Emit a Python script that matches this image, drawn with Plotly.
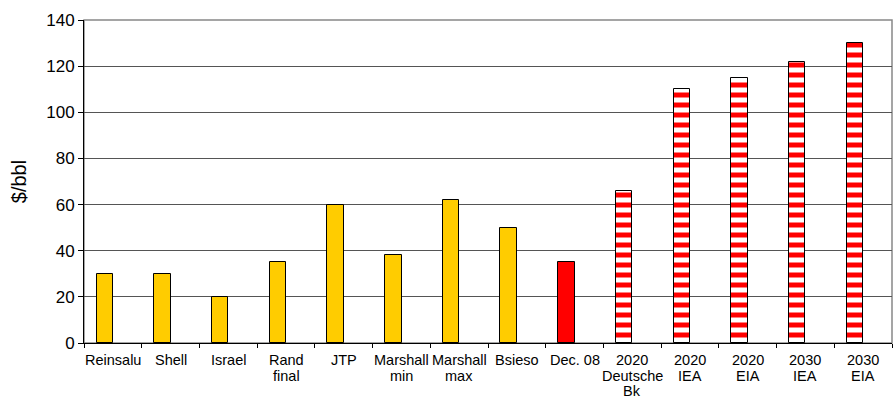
import plotly.graph_objects as go

categories = ["Reinsalu", "Shell", "Israel", "Rand final", "JTP", "Marshall min",
              "Marshall max", "Bsieso", "Dec. 08", "2020 Deutsche Bk",
              "2020 IEA", "2020 EIA", "2030 IEA", "2030 EIA"]
label_lines = [["Reinsalu"], ["Shell"], ["Israel"], ["Rand", "final"], ["JTP"],
               ["Marshall", "min"], ["Marshall", "max"], ["Bsieso"], ["Dec. 08"],
               ["2020", "Deutsche", "Bk"], ["2020", "IEA"], ["2020", "EIA"],
               ["2030", "IEA"], ["2030", "EIA"]]
values = [30, 30, 20, 35, 60, 38, 62, 50, 35, 66, 110, 115, 122, 130]
kinds = ["est"] * 8 + ["actual"] + ["forecast"] * 5

yellow_x = [c for c, k in zip(categories, kinds) if k == "est"]
yellow_y = [v for v, k in zip(values, kinds) if k == "est"]
red_x = [c for c, k in zip(categories, kinds) if k == "actual"]
red_y = [v for v, k in zip(values, kinds) if k == "actual"]
str_x = [c for c, k in zip(categories, kinds) if k == "forecast"]
str_y = [v for v, k in zip(values, kinds) if k == "forecast"]

bw = 0.285
line = dict(color="black", width=1)

fig = go.Figure()
fig.add_bar(x=yellow_x, y=yellow_y, width=bw, offset=-bw,
            marker=dict(color="#FFCC00", line=line))
fig.add_bar(x=red_x, y=red_y, width=bw, offset=-bw,
            marker=dict(color="#FF0000", line=line))
fig.add_bar(x=str_x, y=str_y, width=bw, offset=-bw,
            marker=dict(color="white", line=line,
                        pattern=dict(shape="-", fgcolor="#FF0000", bgcolor="white",
                                     size=10, solidity=0.5, fgopacity=1)))

annotations = []
for cat, lines in zip(categories, label_lines):
    for i, txt in enumerate(lines):
        annotations.append(dict(x=cat, y=0, xref="x", yref="paper", text=txt,
                                showarrow=False, yanchor="top", xanchor="center",
                                borderpad=0, yshift=-8 - i * 15.5,
                                font=dict(size=14.5)))

fig.update_layout(
    width=894, height=399,
    margin=dict(l=84, r=2, t=20, b=56),
    plot_bgcolor="white", paper_bgcolor="white",
    showlegend=False,
    font=dict(family="Liberation Sans, Arial, sans-serif", color="black"),
    bargap=0,
    annotations=annotations,
    shapes=[dict(type="rect", xref="paper", yref="paper", x0=0, x1=1, y0=0, y1=1,
                 line=dict(color="#888888", width=1.5), layer="below")],
)
fig.update_xaxes(
    type="category", categoryorder="array", categoryarray=categories,
    tickson="boundaries", ticks="outside", ticklen=4, tickcolor="black",
    showline=True, linecolor="black", linewidth=1, showgrid=False,
    showticklabels=False, automargin=False,
)
fig.update_yaxes(
    range=[0, 140], tickvals=[0, 20, 40, 60, 80, 100, 120, 140],
    ticks="outside", ticklen=5, tickcolor="black",
    showline=True, linecolor="black", linewidth=1,
    showgrid=True, gridcolor="#555555", gridwidth=1,
    tickfont=dict(size=17), automargin=False,
    title=dict(text="$/bbl", font=dict(size=20), standoff=14),
    zeroline=False,
)
fig.write_html("out.html")
